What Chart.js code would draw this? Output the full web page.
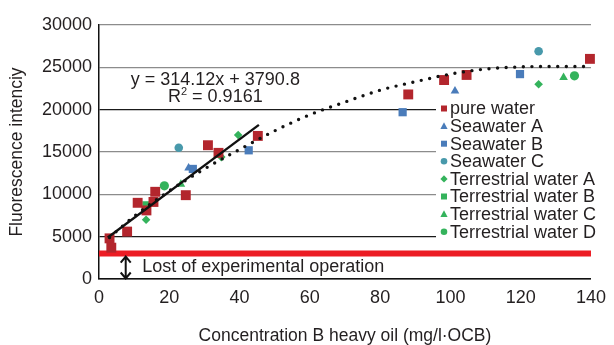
<!DOCTYPE html>
<html>
<head>
<meta charset="utf-8">
<script src="https://cdn.jsdelivr.net/npm/chart.js@4.4.1/dist/chart.umd.min.js"></script>
<style>
  html, body { margin: 0; padding: 0; background: #fff; }
  #fluoChart { display: block; }
</style>
</head>
<body>
<canvas id="fluoChart" width="614" height="345"></canvas>
<script>
// values
const pureWaterX = [3, 3.5, 8, 11, 13.5, 15.5, 16, 24.7, 31, 34, 45.2, 88, 98.2, 104.6, 139.7];
const pureWaterY = [4800, 3700, 5600, 9000, 8100, 9100, 10300, 9900, 15800, 14900, 16900, 21800, 23500, 24100, 26000];
const seaAX = [25.5, 101.3];
const seaAY = [13100, 22200];
const seaBX = [26.7, 42.6, 86.4, 119.8];
const seaBY = [13000, 15200, 19700, 24200];
const seaCX = [22.7, 125.1];
const seaCY = [15500, 26900];
const terrAX = [13.4, 34.8, 39.6, 125.1];
const terrAY = [7000, 14400, 17000, 23000];
const terrBX = [13.5];
const terrBY = [8700];
const terrCX = [23.3, 132.2];
const terrCY = [11200, 23800];
const terrDX = [18.6, 135.3];
const terrDY = [11000, 24000];

// linear trend line (end points) and dotted polynomial trend
const fitX = [2.5, 45.5];
const fitY = [4900, 18200];
const curveX = [3, 10, 20, 30, 40, 50, 60, 70, 80, 90, 100, 110, 120, 130, 139.5];
const curveY = [4900, 7400, 10400, 13000, 15300, 17500, 19400, 20900, 22300, 23300, 24200, 24800, 25050, 25100, 25100];

// lower limit of the method
const lostX = [0, 140];
const lostY = [3000, 3000];

const xTicks = [0, 20, 40, 60, 80, 100, 120, 140];
const yTicks = [0, 5000, 10000, 15000, 20000, 25000, 30000];

const FONT = '"Liberation Sans", Arial, Helvetica, sans-serif';
const TEXT = '#231f20';
const RED = '#b3262d';
const BLUE = '#4a7cba';
const TEAL = '#4899ab';
const GREEN = '#34b35c';

function pts(xs, ys) {
    return xs.map((x, i) => ({ x: x, y: ys[i] }));
}

function markerSet(label, xs, ys, style, color, r) {
    return {
        label: label,
        data: pts(xs, ys),
        pointStyle: style,
        pointRadius: r,
        pointBackgroundColor: color,
        pointBorderColor: color,
        pointBorderWidth: 0,
        showLine: false,
        clip: false,
        order: 1,
        inLegend: true
    };
}

// small marker drawer for the hand placed legend
function drawMarker(ctx, style, color, x, y) {
    ctx.save();
    ctx.fillStyle = color;
    ctx.beginPath();
    if (style === 'rect') {
        ctx.rect(x - 3, y - 3, 6, 6);
    } else if (style === 'triangle') {
        ctx.moveTo(x, y - 3.8);
        ctx.lineTo(x + 3.6, y + 2.8);
        ctx.lineTo(x - 3.6, y + 2.8);
        ctx.closePath();
    } else if (style === 'circle') {
        ctx.arc(x, y, 3.3, 0, Math.PI * 2);
    } else if (style === 'rectRot') {
        ctx.moveTo(x, y - 3.6);
        ctx.lineTo(x + 3.6, y);
        ctx.lineTo(x, y + 3.6);
        ctx.lineTo(x - 3.6, y);
        ctx.closePath();
    }
    ctx.fill();
    ctx.restore();
}

const notesPlugin = {
    id: 'notes',
    afterDatasetsDraw(chart) {
        const ctx = chart.ctx;
        const xs = chart.scales.x, ys = chart.scales.y;
        ctx.save();
        ctx.fillStyle = TEXT;
        ctx.font = '18px ' + FONT;
        ctx.textBaseline = 'middle';

        // trend equation
        const ex = xs.getPixelForValue(33.1);
        ctx.textAlign = 'center';
        ctx.fillText('y = 314.12x + 3790.8', ex, ys.getPixelForValue(23500));
        const ry = ys.getPixelForValue(21500);
        const partA = 'R', partB = ' = 0.9161';
        ctx.font = '18px ' + FONT;
        const wA = ctx.measureText(partA).width;
        const wB = ctx.measureText(partB).width;
        ctx.font = '11px ' + FONT;
        const wS = ctx.measureText('2').width;
        let sx = ex - (wA + wS + wB) / 2;
        ctx.textAlign = 'left';
        ctx.font = '18px ' + FONT;
        ctx.fillText(partA, sx, ry);
        ctx.font = '11px ' + FONT;
        ctx.fillText('2', sx + wA, ry - 5);
        ctx.font = '18px ' + FONT;
        ctx.fillText(partB, sx + wA + wS, ry);

        // double arrow under the red limit line
        const ax = xs.getPixelForValue(7.6);
        const top = ys.getPixelForValue(3000) + 3;
        const bot = ys.getPixelForValue(0) - 0.5;
        ctx.strokeStyle = '#111';
        ctx.lineWidth = 2;
        ctx.beginPath();
        ctx.moveTo(ax, top);
        ctx.lineTo(ax, bot);
        ctx.moveTo(ax - 5, top + 6);
        ctx.lineTo(ax, top);
        ctx.lineTo(ax + 5, top + 6);
        ctx.moveTo(ax - 5, bot - 6);
        ctx.lineTo(ax, bot);
        ctx.lineTo(ax + 5, bot - 6);
        ctx.stroke();

        ctx.fillText('Lost of experimental operation', xs.getPixelForValue(12.3), ys.getPixelForValue(1400));

        // legend box on white
        ctx.fillStyle = '#fff';
        ctx.fillRect(436, 99, 178, 146);
        ctx.fillStyle = TEXT;
        ctx.font = '18px ' + FONT;
        let ly = 108.5;
        chart.data.datasets.forEach(ds => {
            if (!ds.inLegend) return;
            drawMarker(ctx, ds.pointStyle, ds.pointBackgroundColor, 444, ly);
            ctx.fillStyle = TEXT;
            ctx.fillText(ds.label, 450, ly + 1);
            ly += 17.6;
        });
        ctx.restore();
    }
};

new Chart(document.getElementById('fluoChart'), {
    type: 'scatter',
    data: {
        datasets: [
            {
                label: 'linear fit',
                type: 'line',
                data: pts(fitX, fitY),
                borderColor: '#111',
                borderWidth: 2.4,
                pointRadius: 0,
                order: 0
            },
            {
                label: 'poly fit',
                type: 'line',
                data: pts(curveX, curveY),
                borderColor: '#111',
                borderWidth: 3.4,
                borderDash: [0, 8.6],
                borderCapStyle: 'round',
                cubicInterpolationMode: 'monotone',
                pointRadius: 0,
                order: 0
            },
            {
                label: 'limit',
                type: 'line',
                data: pts(lostX, lostY),
                borderColor: '#ec1c24',
                borderWidth: 6,
                pointRadius: 0,
                order: 2
            },
            markerSet('pure water', pureWaterX, pureWaterY, 'rect', RED, 7),
            markerSet('Seawater A', seaAX, seaAY, 'triangle', BLUE, 5),
            markerSet('Seawater B', seaBX, seaBY, 'rect', BLUE, 5.8),
            markerSet('Seawater C', seaCX, seaCY, 'circle', TEAL, 4.3),
            markerSet('Terrestrial water A', terrAX, terrAY, 'rectRot', GREEN, 4.3),
            markerSet('Terrestrial water B', terrBX, terrBY, 'rect', GREEN, 5.8),
            markerSet('Terrestrial water C', terrCX, terrCY, 'triangle', GREEN, 5),
            markerSet('Terrestrial water D', terrDX, terrDY, 'circle', GREEN, 4.6)
        ]
    },
    options: {
        responsive: false,
        animation: false,
        devicePixelRatio: 1,
        layout: { padding: { top: 25, right: 16, left: 0, bottom: 0 } },
        plugins: {
            legend: { display: false },
            tooltip: { enabled: false }
        },
        scales: {
            x: {
                type: 'linear',
                min: 0,
                max: 140,
                afterBuildTicks: s => { s.ticks = xTicks.map(v => ({ value: v })); },
                afterFit: s => { s.height = 66; },
                ticks: { font: { family: FONT, size: 18 }, color: TEXT, padding: 8, callback: v => String(v) },
                grid: { display: false, drawTicks: false },
                border: { color: '#111', width: 1.5 },
                title: {
                    display: true,
                    text: 'Concentration B heavy oil (mg/l\u00b7OCB)',
                    color: TEXT,
                    font: { family: FONT, size: 17.5, lineHeight: 1 },
                    padding: { top: 0, bottom: 0 }
                }
            },
            y: {
                type: 'linear',
                min: 0,
                max: 30000,
                afterBuildTicks: s => { s.ticks = yTicks.map(v => ({ value: v })); },
                afterFit: s => { s.width = 99; },
                ticks: { font: { family: FONT, size: 18 }, color: TEXT, padding: 7, callback: v => String(v) },
                grid: {
                    drawTicks: false,
                    lineWidth: 1.3,
                    color: c => (c.tick && [0, 5000, 20000].includes(c.tick.value)) ? '#1a1a1a' : '#8c8c8c'
                },
                border: { color: '#111', width: 1.5 },
                title: {
                    display: true,
                    text: 'Fluorescence intenciy',
                    color: TEXT,
                    font: { family: FONT, size: 17.5, lineHeight: 1.2 },
                    padding: { top: 7, bottom: 0 }
                }
            }
        }
    },
    plugins: [notesPlugin]
});
</script>
</body>
</html>
